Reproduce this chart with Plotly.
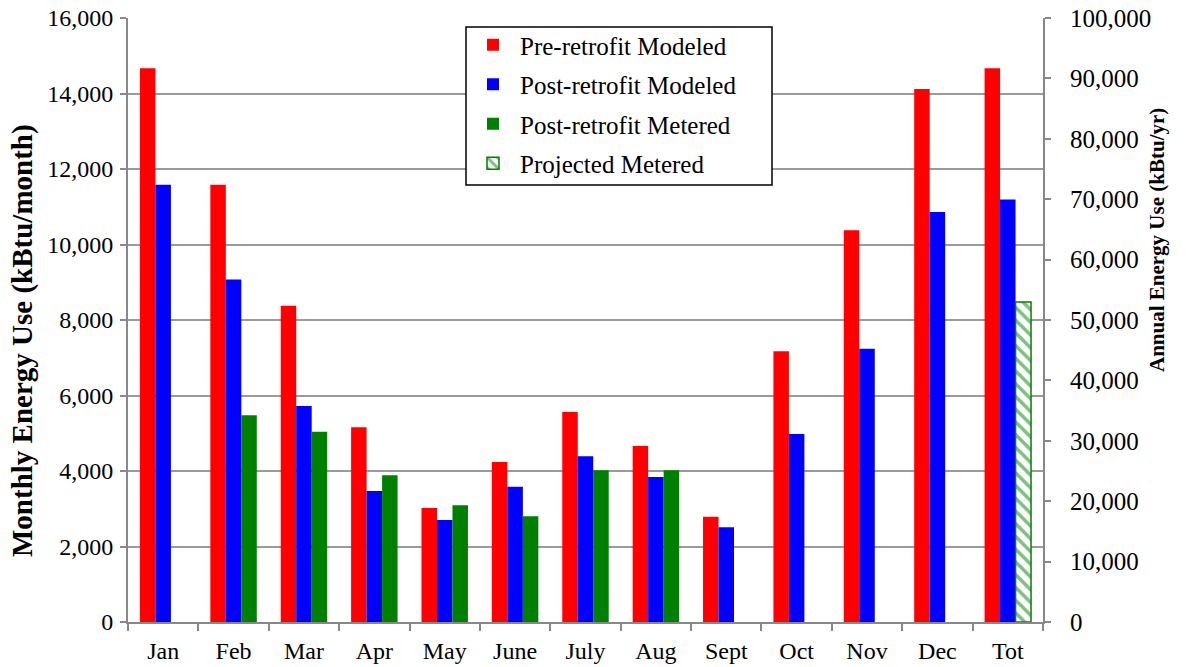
import plotly.graph_objects as go

# Monthly energy use (kBtu/month) and annual totals (kBtu/yr)
months = ["Jan", "Feb", "Mar", "Apr", "May", "June", "July", "Aug", "Sept", "Oct", "Nov", "Dec"]
total_label = "Tot"
categories = months + [total_label]

pre_modeled = [14670, 11580, 8380, 5160, 3020, 4240, 5560, 4660, 2790, 7170, 10380, 14120]
post_modeled = [11580, 9070, 5720, 3470, 2700, 3580, 4390, 3840, 2510, 4980, 7240, 10860]
post_metered = [None, 5480, 5040, 3890, 3090, 2800, 4020, 4020, None, None, None, None]

annual_pre_modeled = 91700
annual_post_modeled = 69950
annual_projected_metered = 53000

FONT = "Liberation Serif"
RED, BLUE, GREEN = "#ff0000", "#0000ff", "#008000"
W = 0.22
OFFS = [-0.33, -0.11, 0.11]

# plot-area geometry in pixels
L, R, T, B = 128, 1043, 18, 622
FIG_W, FIG_H = 1187, 667


def px_x(px):
    return (px - L) / (R - L)


def px_y(py):
    return (B - py) / (B - T)


fig = go.Figure()


def bar(name, x, y, color, off, axis, show, group):
    fig.add_trace(go.Bar(
        name=name, x=x, y=y, yaxis=axis, width=W, offset=off,
        marker=dict(color=color, line=dict(width=0)),
        showlegend=show, legendgroup=group))


bar("Pre-retrofit Modeled", months, pre_modeled, RED, OFFS[0], "y", True, "a")
bar("Post-retrofit Modeled", months, post_modeled, BLUE, OFFS[1], "y", True, "b")
bar("Post-retrofit Metered", months, post_metered, GREEN, OFFS[2], "y", True, "c")

bar("Pre-retrofit Modeled", [total_label], [annual_pre_modeled], RED, OFFS[0], "y2", False, "a")
bar("Post-retrofit Modeled", [total_label], [annual_post_modeled], BLUE, OFFS[1], "y2", False, "b")
fig.add_trace(go.Bar(
    name="Projected Metered", x=[total_label], y=[annual_projected_metered], yaxis="y2",
    width=W, offset=OFFS[2], legendgroup="d",
    marker=dict(color="white", line=dict(color=GREEN, width=1.5),
                pattern=dict(shape="\\", fgcolor=GREEN, bgcolor="white", size=9, solidity=0.4)),
))

fig.update_layout(
    width=FIG_W, height=FIG_H,
    margin=dict(l=L, r=FIG_W - R, t=T, b=FIG_H - B),
    paper_bgcolor="white", plot_bgcolor="white",
    font=dict(family=FONT, size=24, color="black"),
    barmode="overlay",
    xaxis=dict(
        categoryorder="array", categoryarray=categories, range=[-0.5, 12.5],
        showline=True, linecolor="#888888", linewidth=2,
        ticks="outside", tickson="boundaries", ticklen=7, tickcolor="#888888", tickwidth=1.5,
        showgrid=False, tickfont=dict(size=24, family=FONT), ticklabelstandoff=6,
        automargin=False,
    ),
    yaxis=dict(
        range=[0, 16000], dtick=2000, tickformat=",d",
        showline=True, linecolor="#888888", linewidth=2,
        ticks="outside", ticklen=6, tickcolor="#888888", tickwidth=1.5,
        showgrid=True, gridcolor="#9a9a9a", gridwidth=1.5, zeroline=False,
        tickfont=dict(size=24, family=FONT), ticklabelstandoff=2,
        automargin=False,
    ),
    yaxis2=dict(
        overlaying="y", side="right", range=[0, 100000], dtick=10000, tickformat=",d",
        showline=True, linecolor="#888888", linewidth=2,
        ticks="outside", ticklen=6, tickcolor="#888888", tickwidth=1.5,
        showgrid=False, zeroline=False,
        tickfont=dict(size=25, family=FONT), ticklabelstandoff=14,
        automargin=False,
    ),
    # legend entries sit on a framed white box drawn as a shape
    legend=dict(
        x=px_x(466), y=px_y(22), xanchor="left", yanchor="top",
        bgcolor="rgba(0,0,0,0)", borderwidth=0,
        font=dict(size=25, family=FONT), traceorder="grouped", tracegroupgap=4,
        itemwidth=44,
    ),
    shapes=[
        dict(type="rect", xref="paper", yref="paper", layer="above",
             x0=px_x(466), x1=px_x(772), y0=px_y(185), y1=px_y(27),
             fillcolor="white", line=dict(color="black", width=1.5)),
    ],
    annotations=[
        dict(text="<b>Monthly Energy Use (kBtu/month)</b>", textangle=-90,
             xref="paper", yref="paper", x=px_x(22), y=px_y(341),
             xanchor="center", yanchor="middle", showarrow=False,
             font=dict(size=29, family=FONT)),
        dict(text="<b>Annual Energy Use (kBtu/yr)</b>", textangle=-90,
             xref="paper", yref="paper", x=px_x(1157), y=px_y(240),
             xanchor="center", yanchor="middle", showarrow=False,
             font=dict(size=21, family=FONT)),
    ],
)

fig.write_html("out.html")
